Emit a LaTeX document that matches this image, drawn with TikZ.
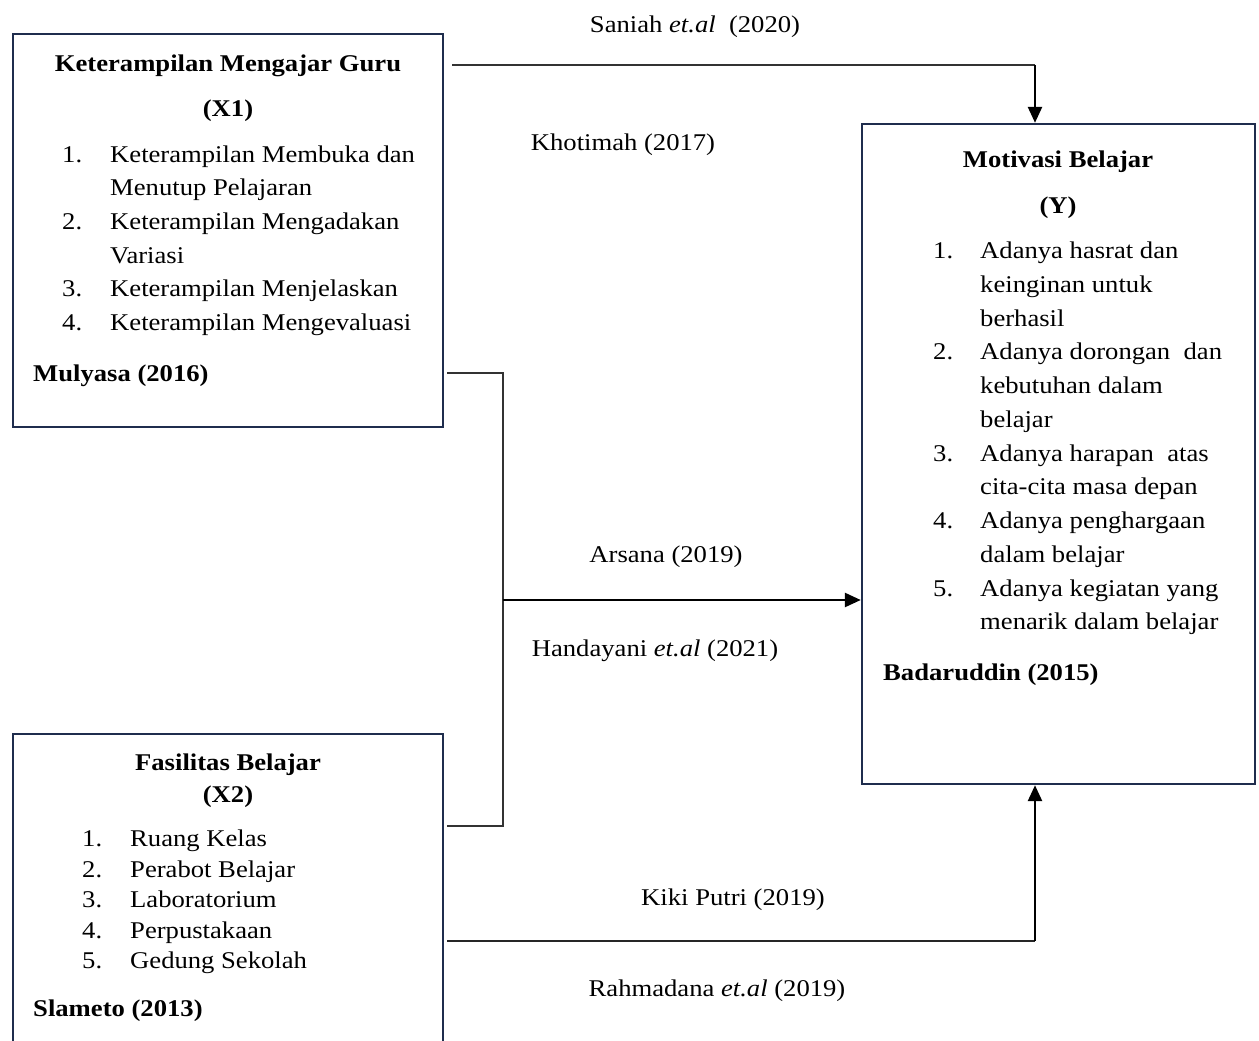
\documentclass[tikz,border=0pt]{standalone}
\usepackage{fontspec}
\setmainfont{Liberation Serif}[FakeStretch=1.11]
\usetikzlibrary{arrows.meta}
\definecolor{navy}{HTML}{1F2D4D}
\begin{document}
\begin{tikzpicture}[x=1pt,y=-1pt,
  box/.style={draw=navy, line width=2.4pt, inner sep=0pt},
  txt/.style={inner sep=0pt, anchor=base west, font=\fontsize{24}{29}\selectfont},
  btxt/.style={inner sep=0pt, anchor=base west, font=\fontsize{24}{29}\selectfont\bfseries},
  ctr/.style={inner sep=0pt, anchor=base, font=\fontsize{24}{29}\selectfont},
  bctr/.style={inner sep=0pt, anchor=base, font=\fontsize{24}{29}\selectfont\bfseries},
  thinline/.style={draw=black!80, line width=1.1pt},
  thickline/.style={draw=black, line width=2.6pt},
  tip/.style={-{Triangle[length=16pt,width=14pt]}}]
\useasboundingbox (0,0) rectangle (1259,1041);

% boxes
\node[box, minimum width=430pt, minimum height=393pt] (x1) at (228,230.5) {};
\node[box, minimum width=393pt, minimum height=660pt] (mot) at (1058.5,454) {};
\node[box, minimum width=430pt, minimum height=336pt] (x2) at (228,902) {};

% X1 texts
\node[bctr] (x1t) at (228,71) {Keterampilan Mengajar Guru};
\node[bctr] (x1v) at (228,116) {(X1)};
\node[txt] (x1n1) at (62,162) {1.};
\node[txt] (x1a) at (110,162) {Keterampilan Membuka dan};
\node[txt] (x1b) at (110,195.5) {Menutup Pelajaran};
\node[txt] (x1n2) at (62,229.5) {2.};
\node[txt] (x1c) at (110,229.5) {Keterampilan Mengadakan};
\node[txt] (x1d) at (110,263) {Variasi};
\node[txt] (x1n3) at (62,296.5) {3.};
\node[txt] (x1e) at (110,296.5) {Keterampilan Menjelaskan};
\node[txt] (x1n4) at (62,330) {4.};
\node[txt] (x1f) at (110,330) {Keterampilan Mengevaluasi};
\node[btxt] (x1s) at (33,381) {Mulyasa (2016)};

% X2 texts
\node[bctr] (x2t) at (228,770) {Fasilitas Belajar};
\node[bctr] (x2v) at (228,802) {(X2)};
\node[txt] (x2n1) at (82,846) {1.};
\node[txt] (x2a) at (130,846) {Ruang Kelas};
\node[txt] (x2n2) at (82,877) {2.};
\node[txt] (x2b) at (130,877) {Perabot Belajar};
\node[txt] (x2n3) at (82,907.5) {3.};
\node[txt] (x2c) at (130,907.5) {Laboratorium};
\node[txt] (x2n4) at (82,938) {4.};
\node[txt] (x2d) at (130,938) {Perpustakaan};
\node[txt] (x2n5) at (82,968.5) {5.};
\node[txt] (x2e) at (130,968.5) {Gedung Sekolah};
\node[btxt] (x2s) at (33,1016) {Slameto (2013)};

% Y texts
\node[bctr] (yt) at (1058,167) {Motivasi Belajar};
\node[bctr] (yv) at (1058,213) {(Y)};
\node[txt] (yn1) at (933,258) {1.};
\node[txt] (ya) at (980,258) {Adanya hasrat dan};
\node[txt] (yb) at (980,292) {keinginan untuk};
\node[txt] (yc) at (980,326) {berhasil};
\node[txt] (yn2) at (933,359.5) {2.};
\node[txt] (yd) at (980,359.5) {Adanya dorongan\ \ dan};
\node[txt] (ye) at (980,393) {kebutuhan dalam};
\node[txt] (yf) at (980,427) {belajar};
\node[txt] (yn3) at (933,461) {3.};
\node[txt] (yg) at (980,461) {Adanya harapan\ \ atas};
\node[txt] (yh) at (980,494.5) {cita-cita masa depan};
\node[txt] (yn4) at (933,528) {4.};
\node[txt] (yi) at (980,528) {Adanya penghargaan};
\node[txt] (yj) at (980,562) {dalam belajar};
\node[txt] (yn5) at (933,596) {5.};
\node[txt] (yk) at (980,596) {Adanya kegiatan yang};
\node[txt] (yl) at (980,629.5) {menarik dalam belajar};
\node[btxt] (ys) at (883,680) {Badaruddin (2015)};

% connector labels
\node[ctr] (l1) at (695,33) {Saniah \textit{et.al}\ \ (2020)};
\node[ctr] (l2) at (623,150) {Khotimah (2017)};
\node[ctr] (l3) at (666,562) {Arsana (2019)};
\node[ctr] (l4) at (655,656) {Handayani \textit{et.al} (2021)};
\node[ctr] (l5) at (733,905) {Kiki Putri (2019)};
\node[ctr] (l6) at (717,996) {Rahmadana \textit{et.al} (2019)};

% connectors
\coordinate (p1) at (452,65);
\coordinate (c1) at (1035,65);
\draw[thinline] (p1) -- (c1);
\draw[thickline, tip] (c1) -- (c1 |- mot.north);

\coordinate (b1) at (447,373);
\coordinate (b2) at (503,373);
\coordinate (b3) at (503,826);
\coordinate (b4) at (447,826);
\draw[thinline] (b1) -- (b2) -- (b3) -- (b4);
\coordinate (m) at (503,600);
\draw[thickline, tip] (m) -- (m -| mot.west);

\coordinate (q1) at (447,941);
\coordinate (q2) at (1035,941);
\draw[draw=black!85, line width=1.8pt] (q1) -- (q2);
\draw[thickline, tip] (q2) -- (q2 |- mot.south);
\end{tikzpicture}
\end{document}
